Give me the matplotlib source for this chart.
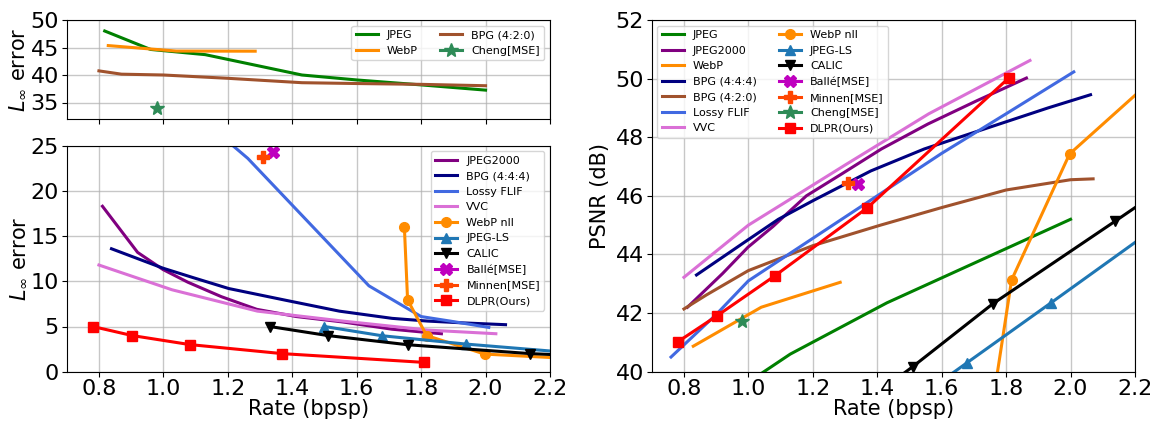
import numpy as np
import matplotlib
matplotlib.use("Agg")
import matplotlib.pyplot as plt

# ---- data ----
# top-left panel (L_inf error, high-error codecs)
jpeg_rate = [0.818, 0.96, 1.13, 1.43, 1.6, 1.8, 2.0]
jpeg_linf = [48.0, 44.65, 43.7, 40.0, 39.1, 38.2, 37.25]
jpeg_psnr = [38.3, 39.35, 40.6, 42.35, 43.2, 44.2, 45.2]

webp_rate = [0.829, 1.04, 1.285]
webp_linf = [45.35, 44.35, 44.33]
webp_psnr = [40.87, 42.2, 43.05]

bpg420_rate_l = [0.8, 0.87, 1.0, 1.2, 1.43, 1.6, 1.8, 2.0]
bpg420_linf = [40.75, 40.15, 40.0, 39.4, 38.6, 38.45, 38.3, 38.05]
bpg420_rate_p = [0.8, 0.87, 1.0, 1.2, 1.41, 1.6, 1.8, 2.0, 2.07]
bpg420_psnr = [42.14, 42.62, 43.45, 44.3, 45.0, 45.6, 46.2, 46.55, 46.58]

cheng_rate = [0.981]
cheng_linf = [34.05]
cheng_psnr = [41.72]

# bottom-left panel + PSNR
j2k_rate = [0.811, 0.92, 0.999, 1.076, 1.18, 1.29, 1.413, 1.557, 1.71, 1.8, 1.863]
j2k_linf = [18.3, 13.2, 11.3, 9.9, 8.3, 6.9, 6.1, 5.5, 4.7, 4.4, 4.2]
j2k_psnr = [42.2, 43.35, 44.25, 44.95, 46.0, 46.75, 47.6, 48.45, 49.25, 49.7, 50.02]

bpg444_rate = [0.839, 0.999, 1.093, 1.203, 1.38, 1.546, 1.71, 1.82, 1.93, 2.062]
bpg444_linf = [13.6, 11.45, 10.4, 9.2, 7.9, 6.7, 5.9, 5.6, 5.4, 5.2]
bpg444_psnr = [43.3, 44.5, 45.2, 45.85, 46.85, 47.6, 48.2, 48.6, 49.0, 49.45]

flif_rate_l = [1.15, 1.262, 1.638, 1.8, 1.89, 2.01]
flif_linf = [27.0, 23.6, 9.5, 6.1, 5.6, 4.9]
flif_rate_p = [0.76, 0.9, 1.0, 1.2, 1.4, 1.6, 1.8, 2.01]
flif_psnr = [40.5, 41.95, 43.1, 44.55, 46.0, 47.45, 48.8, 50.23]

vvc_rate_l = [0.8, 1.027, 1.292, 1.557, 1.822, 2.032]
vvc_linf = [11.8, 9.06, 6.7, 5.6, 4.6, 4.2]
vvc_rate_p = [0.8, 1.0, 1.11, 1.3, 1.56, 1.874]
vvc_psnr = [43.22, 45.0, 45.75, 47.05, 48.8, 50.62]

webpnll_rate = [1.748, 1.758, 1.817, 1.997, 2.4]
webpnll_linf = [16.0, 7.95, 4.0, 1.95, 1.2]
webpnll_psnr = [36.5, 38.9, 43.13, 47.43, 51.4]

jpegls_rate = [1.5, 1.678, 1.938, 2.3]
jpegls_linf = [5.0, 3.98, 3.06, 2.0]
jpegls_psnr = [38.9, 40.3, 42.34, 45.2]

calic_rate = [1.33, 1.51, 1.759, 2.139, 2.4]
calic_linf = [5.0, 4.0, 2.98, 2.0, 1.6]
calic_psnr = [38.7, 40.17, 42.32, 45.14, 47.1]

balle_rate = [1.34]
balle_linf = [24.3]
balle_psnr = [46.41]

minnen_rate = [1.309]
minnen_linf = [23.7]
minnen_psnr = [46.44]

dlpr_rate = [0.781, 0.903, 1.082, 1.369, 1.809]
dlpr_linf = [5.0, 4.0, 3.0, 2.0, 1.03]
dlpr_psnr = [41.02, 41.91, 43.27, 45.59, 50.03]

# ---- figure ----
W, H = 1153, 422
fig = plt.figure(figsize=(W / 100, H / 100), dpi=100)

ax_top = fig.add_axes([66.7 / W, 1 - 119 / H, (550 - 66.7) / W, (119 - 20) / H])
ax_bot = fig.add_axes([66.7 / W, 1 - 371.7 / H, (550 - 66.7) / W, (371.7 - 145.7) / H])
ax_r = fig.add_axes([651.7 / W, 1 - 371.7 / H, (1135 - 651.7) / W, (371.7 - 20) / H])

lw = 2.2
tick_fs = 16
label_fs = 15
leg_fs = 8

# top-left
ax_top.plot(jpeg_rate, jpeg_linf, color='green', lw=lw, label='JPEG')
ax_top.plot(webp_rate, webp_linf, color='darkorange', lw=lw, label='WebP')
ax_top.plot(bpg420_rate_l, bpg420_linf, color='sienna', lw=lw, label='BPG (4:2:0)')
ax_top.plot(cheng_rate, cheng_linf, color='seagreen', lw=lw, marker='*', ms=10, label='Cheng[MSE]')
ax_top.set_xlim(0.7, 2.2)
ax_top.set_ylim(32, 50)
ax_top.set_yticks([35, 40, 45, 50])
ax_top.set_xticks(np.arange(0.8, 2.21, 0.2))
ax_top.tick_params(labelbottom=False)
ax_top.set_ylabel(r'$L_\infty$ error', fontsize=label_fs, labelpad=2)
ax_top.legend(ncol=2, loc='upper right', fontsize=leg_fs)

# bottom-left
ax_bot.plot(j2k_rate, j2k_linf, color='purple', lw=lw, label='JPEG2000')
ax_bot.plot(bpg444_rate, bpg444_linf, color='navy', lw=lw, label='BPG (4:4:4)')
ax_bot.plot(flif_rate_l, flif_linf, color='royalblue', lw=lw, label='Lossy FLIF')
ax_bot.plot(vvc_rate_l, vvc_linf, color='orchid', lw=lw, label='VVC')
ax_bot.plot(webpnll_rate, webpnll_linf, color='darkorange', lw=lw, marker='o', ms=7, label='WebP nll')
ax_bot.plot(jpegls_rate, jpegls_linf, color='tab:blue', lw=lw, marker='^', ms=7, label='JPEG-LS')
ax_bot.plot(calic_rate, calic_linf, color='black', lw=lw, marker='v', ms=7, label='CALIC')
ax_bot.plot(balle_rate, balle_linf, color='m', lw=lw, marker='X', ms=8, label='Ballé[MSE]')
ax_bot.plot(minnen_rate, minnen_linf, color='orangered', lw=lw, marker='P', ms=8, label='Minnen[MSE]')
ax_bot.plot(dlpr_rate, dlpr_linf, color='red', lw=lw, marker='s', ms=7, label='DLPR(Ours)')
ax_bot.set_xlim(0.7, 2.2)
ax_bot.set_ylim(0, 25)
ax_bot.set_xticks(np.arange(0.8, 2.21, 0.2))
ax_bot.set_ylabel(r'$L_\infty$ error', fontsize=label_fs, labelpad=2)
ax_bot.set_xlabel('Rate (bpsp)', fontsize=label_fs, labelpad=0)
ax_bot.legend(loc='upper right', fontsize=leg_fs)

# right panel
ax_r.plot(jpeg_rate, jpeg_psnr, color='green', lw=lw, label='JPEG')
ax_r.plot(j2k_rate, j2k_psnr, color='purple', lw=lw, label='JPEG2000')
ax_r.plot(webp_rate, webp_psnr, color='darkorange', lw=lw, label='WebP')
ax_r.plot(bpg444_rate, bpg444_psnr, color='navy', lw=lw, label='BPG (4:4:4)')
ax_r.plot(bpg420_rate_p, bpg420_psnr, color='sienna', lw=lw, label='BPG (4:2:0)')
ax_r.plot(flif_rate_p, flif_psnr, color='royalblue', lw=lw, label='Lossy FLIF')
ax_r.plot(vvc_rate_p, vvc_psnr, color='orchid', lw=lw, label='VVC')
ax_r.plot(webpnll_rate, webpnll_psnr, color='darkorange', lw=lw, marker='o', ms=7, label='WebP nll')
ax_r.plot(jpegls_rate, jpegls_psnr, color='tab:blue', lw=lw, marker='^', ms=7, label='JPEG-LS')
ax_r.plot(calic_rate, calic_psnr, color='black', lw=lw, marker='v', ms=7, label='CALIC')
ax_r.plot(balle_rate, balle_psnr, color='m', lw=lw, marker='X', ms=8, label='Ballé[MSE]')
ax_r.plot(minnen_rate, minnen_psnr, color='orangered', lw=lw, marker='P', ms=8, label='Minnen[MSE]')
ax_r.plot(cheng_rate, cheng_psnr, color='seagreen', lw=lw, marker='*', ms=10, label='Cheng[MSE]')
ax_r.plot(dlpr_rate, dlpr_psnr, color='red', lw=lw, marker='s', ms=7, label='DLPR(Ours)')
ax_r.set_xlim(0.7, 2.2)
ax_r.set_ylim(40, 52)
ax_r.set_xticks(np.arange(0.8, 2.21, 0.2))
ax_r.set_yticks(np.arange(40, 52.1, 2))
ax_r.set_ylabel('PSNR (dB)', fontsize=label_fs)
ax_r.set_xlabel('Rate (bpsp)', fontsize=label_fs, labelpad=0)
ax_r.legend(ncol=2, loc='upper left', fontsize=leg_fs)

for ax in (ax_top, ax_bot, ax_r):
    ax.grid(True, color='#b0b0b0', lw=1, alpha=0.7)
    ax.tick_params(labelsize=tick_fs, pad=2)
    ax.xaxis.set_major_formatter(matplotlib.ticker.FormatStrFormatter('%.1f'))

fig.savefig('out.png', dpi=100)
